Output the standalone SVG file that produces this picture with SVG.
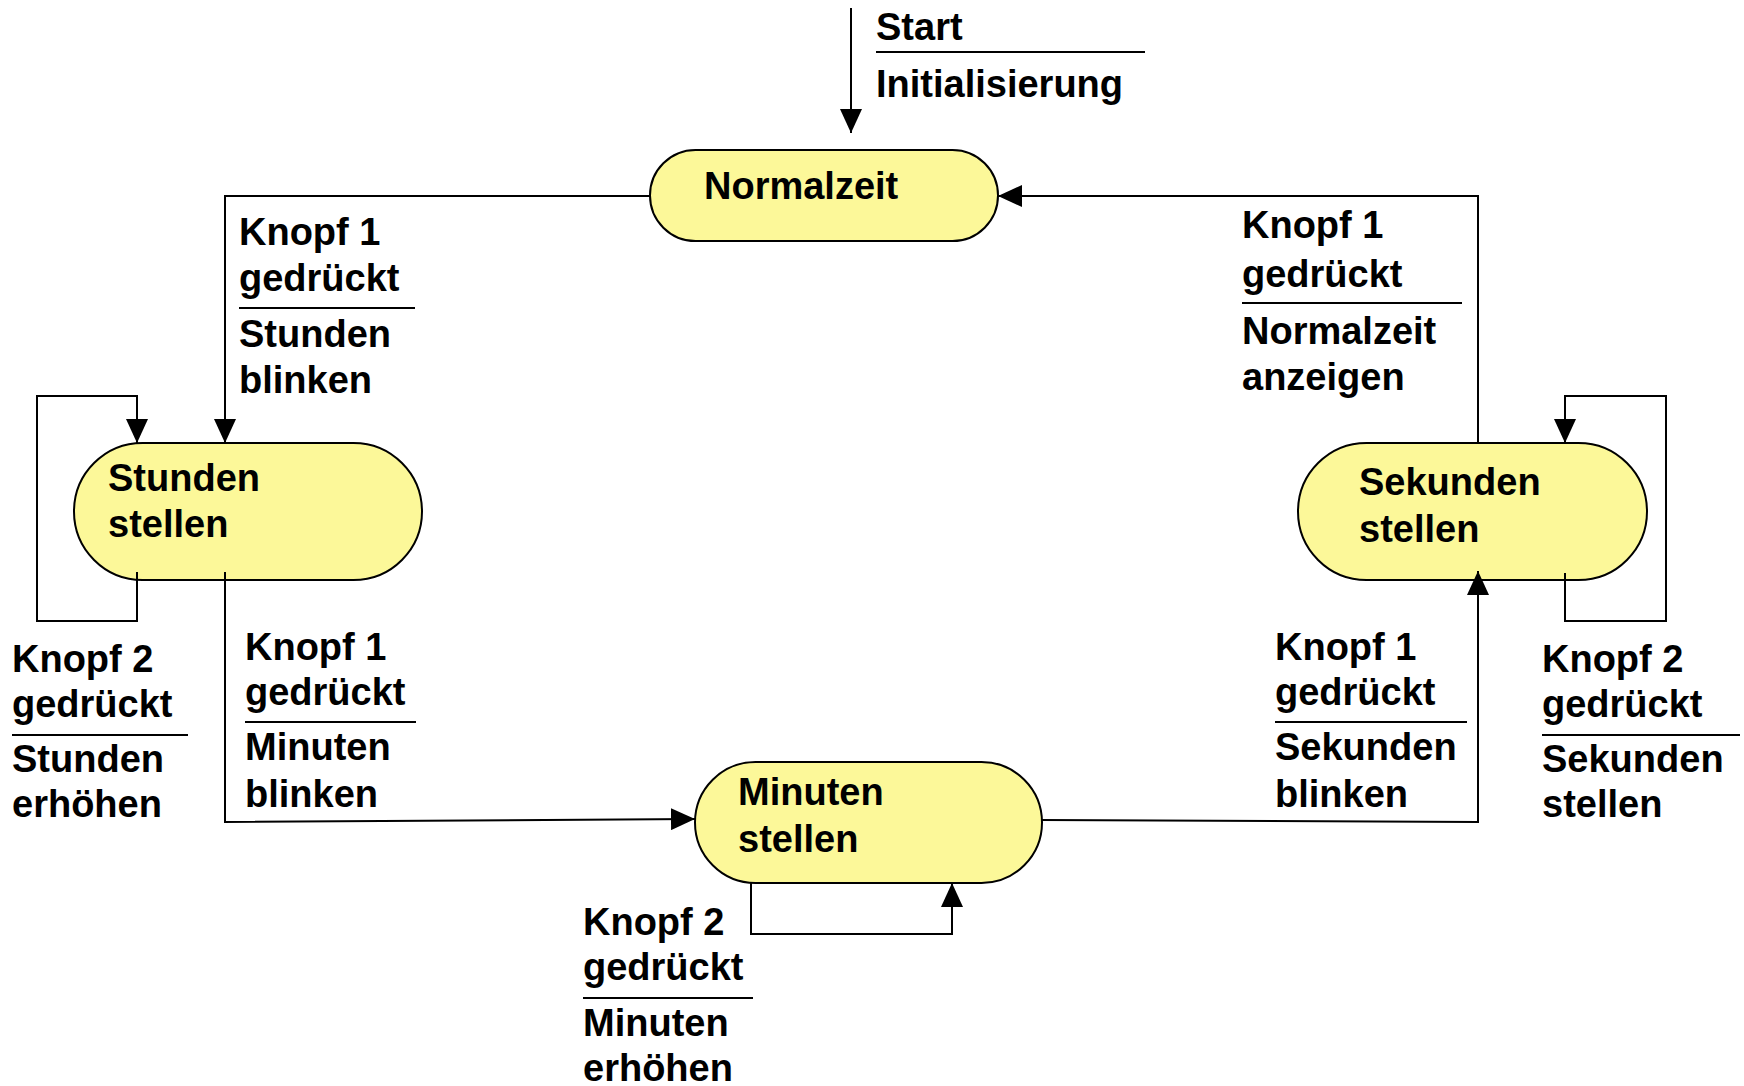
<svg xmlns="http://www.w3.org/2000/svg" width="1744" height="1086" viewBox="0 0 1744 1086">
<defs>
<style>
.node{fill:#FCF899;stroke:#000;stroke-width:2}
.t{font-family:"Liberation Sans",Arial,sans-serif;font-weight:bold;font-size:38px;fill:#000}
.c{fill:none;stroke:#000;stroke-width:2}
.sep{stroke:#000;stroke-width:2}
</style>
<marker id="ah" markerUnits="userSpaceOnUse" markerWidth="24" markerHeight="22" refX="24" refY="11" orient="auto">
<path d="M0,0 L24,11 L0,22 z" fill="#000"/>
</marker>
</defs>
<rect width="1744" height="1086" fill="#fff"/>
<g id="node-normalzeit">
<rect class="node" x="650" y="150" width="348" height="91" rx="45.5"/>
<text class="t" x="704" y="199">Normalzeit</text>
</g>
<g id="node-stunden">
<rect class="node" x="74" y="443" width="348" height="137" rx="68.5"/>
<text class="t" x="108" y="491">Stunden</text>
<text class="t" x="108" y="537">stellen</text>
</g>
<g id="node-minuten">
<rect class="node" x="695" y="762" width="347" height="121" rx="60.5"/>
<text class="t" x="738" y="805">Minuten</text>
<text class="t" x="738" y="852">stellen</text>
</g>
<g id="node-sekunden">
<rect class="node" x="1298" y="443" width="349" height="137" rx="68.5"/>
<text class="t" x="1359" y="495">Sekunden</text>
<text class="t" x="1359" y="542">stellen</text>
</g>
<g id="connectors">
<path class="c" d="M851,8 L851,133" marker-end="url(#ah)"/>
<path class="c" d="M650,196 L225,196 L225,443" marker-end="url(#ah)"/>
<path class="c" d="M137,572 L137,621 L37,621 L37,396 L137,396 L137,443" marker-end="url(#ah)"/>
<path class="c" d="M225,572 L225,822 L695,819" marker-end="url(#ah)"/>
<path class="c" d="M751,883 L751,934 L952,934 L952,883" marker-end="url(#ah)"/>
<path class="c" d="M1042,820 L1478,822 L1478,571" marker-end="url(#ah)"/>
<path class="c" d="M1565,573 L1565,621 L1666,621 L1666,396 L1565,396 L1565,443" marker-end="url(#ah)"/>
<path class="c" d="M1478,443 L1478,196 L998,196" marker-end="url(#ah)"/>
</g>
<g id="labels">
<g id="label-start">
<text class="t" x="876" y="40">Start</text>
<line class="sep" x1="876" y1="52" x2="1145" y2="52"/>
<text class="t" x="876" y="97">Initialisierung</text>
</g>
<g id="label-n-s">
<text class="t" x="239" y="245">Knopf 1</text>
<text class="t" x="239" y="291">gedrückt</text>
<line class="sep" x1="239" y1="308" x2="415" y2="308"/>
<text class="t" x="239" y="347">Stunden</text>
<text class="t" x="239" y="393">blinken</text>
</g>
<g id="label-s-n">
<text class="t" x="1242" y="238">Knopf 1</text>
<text class="t" x="1242" y="287">gedrückt</text>
<line class="sep" x1="1242" y1="303" x2="1462" y2="303"/>
<text class="t" x="1242" y="344">Normalzeit</text>
<text class="t" x="1242" y="390">anzeigen</text>
</g>
<g id="label-s-self">
<text class="t" x="12" y="672">Knopf 2</text>
<text class="t" x="12" y="717">gedrückt</text>
<line class="sep" x1="12" y1="735" x2="188" y2="735"/>
<text class="t" x="12" y="772">Stunden</text>
<text class="t" x="12" y="817">erhöhen</text>
</g>
<g id="label-s-m">
<text class="t" x="245" y="660">Knopf 1</text>
<text class="t" x="245" y="705">gedrückt</text>
<line class="sep" x1="245" y1="722" x2="416" y2="722"/>
<text class="t" x="245" y="760">Minuten</text>
<text class="t" x="245" y="807">blinken</text>
</g>
<g id="label-m-sek">
<text class="t" x="1275" y="660">Knopf 1</text>
<text class="t" x="1275" y="705">gedrückt</text>
<line class="sep" x1="1275" y1="722" x2="1467" y2="722"/>
<text class="t" x="1275" y="760">Sekunden</text>
<text class="t" x="1275" y="807">blinken</text>
</g>
<g id="label-sek-self">
<text class="t" x="1542" y="672">Knopf 2</text>
<text class="t" x="1542" y="717">gedrückt</text>
<line class="sep" x1="1542" y1="735" x2="1740" y2="735"/>
<text class="t" x="1542" y="772">Sekunden</text>
<text class="t" x="1542" y="817">stellen</text>
</g>
<g id="label-m-self">
<text class="t" x="583" y="935">Knopf 2</text>
<text class="t" x="583" y="980">gedrückt</text>
<line class="sep" x1="583" y1="998" x2="753" y2="998"/>
<text class="t" x="583" y="1036">Minuten</text>
<text class="t" x="583" y="1081">erhöhen</text>
</g>
</g>
</svg>
